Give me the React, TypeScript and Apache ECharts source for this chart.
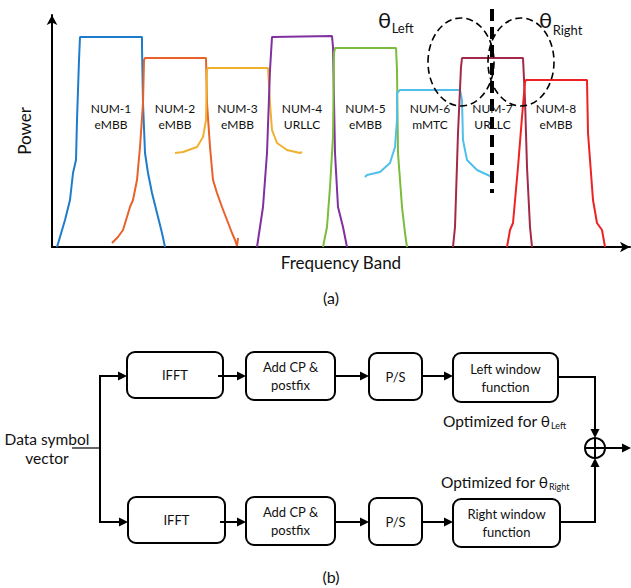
import React, { useEffect, useRef } from "react";
import * as echarts from "echarts";

// Spectrum data: [frequency, power] in arbitrary units
const num1 = [[5,0],[8,10],[13,27],[18,47],[21,74],[24,87],[25,127],[27,187],[28,210],[90,210],[90,200],[91,144],[93,94],[96,74],[100,54],[105,34],[110,14],[113,0]];
const num2 = [[60,4],[66,10],[71,17],[78,40],[81,47],[85,67],[88,100],[91,144],[92,187],[93,189],[154,189],[155,144],[158,100],[161,67],[165,54],[170,40],[175,27],[180,14],[183,7],[185,1],[186,9]];
const num3 = [[123,94],[131,95],[145,100],[151,110],[154,127],[155,177],[156,179],[216,179],[218,144],[220,117],[225,104],[235,97],[248,94],[250,95]];
const num4 = [[205,0],[208,20],[211,40],[215,94],[218,177],[220,210],[280,211],[281,200],[283,94],[286,40],[291,20],[295,0]];
const num5 = [[271,0],[275,20],[278,60],[281,110],[282,194],[283,199],[344,199],[345,177],[346,94],[350,40],[353,14],[355,0]];
const num6 = [[313,70],[315,72],[328,75],[338,84],[343,100],[345,127],[345,154],[348,157],[408,157],[410,147],[411,107],[415,87],[425,77],[440,70]];
const num7 = [[401,0],[403,20],[406,114],[409,180],[410,189],[471,189],[473,147],[475,80],[478,20],[480,0]];
const num8 = [[455,0],[458,17],[461,24],[466,80],[470,130],[473,165],[474,167],[535,167],[536,114],[541,47],[545,24],[550,17],[553,0]];

const numerologies = ["NUM-1","NUM-2","NUM-3","NUM-4","NUM-5","NUM-6","NUM-7","NUM-8"];
const services = ["eMBB","eMBB","eMBB","URLLC","eMBB","mMTC","URLLC","eMBB"];
const curves = [num1,num2,num3,num4,num5,num6,num7,num8];
const colors = ["#1f7ccc","#e8622a","#f0b030","#8030a0","#7cbc3c","#50c0ea","#a42848","#ee2222"];

const FONT = "Lato, 'Open Sans', sans-serif";

let measureCtx: CanvasRenderingContext2D | null = null;
function measure(text: string, size: number) {
  if (!measureCtx) measureCtx = document.createElement("canvas").getContext("2d");
  measureCtx!.font = `${size}px ${FONT}`;
  return measureCtx!.measureText(text).width;
}

function plateauCenter(pts: number[][]) {
  let maxY = -Infinity;
  pts.forEach(p => { if (p[1] > maxY) maxY = p[1]; });
  const xs = pts.filter(p => p[1] >= maxY - 2).map(p => p[0]);
  return (Math.min(...xs) + Math.max(...xs)) / 2;
}

function arrowH(x1: number, x2: number, y: number): any[] {
  const dir = x2 > x1 ? 1 : -1;
  return [
    { type: "line", shape: { x1, y1: y, x2: x2 - dir * 6, y2: y }, style: { stroke: "#000", lineWidth: 2 } },
    { type: "polygon", shape: { points: [[x2, y], [x2 - dir * 9, y - 4.5], [x2 - dir * 9, y + 4.5]] }, style: { fill: "#000" } },
  ];
}
function arrowV(x: number, y1: number, y2: number): any[] {
  const dir = y2 > y1 ? 1 : -1;
  return [
    { type: "line", shape: { x1: x, y1, x2: x, y2: y2 - dir * 6 }, style: { stroke: "#000", lineWidth: 2 } },
    { type: "polygon", shape: { points: [[x, y2], [x - 4.5, y2 - dir * 9], [x + 4.5, y2 - dir * 9]] }, style: { fill: "#000" } },
  ];
}
function box(x: number, y: number, w: number, h: number, text: string): any[] {
  return [
    { type: "rect", shape: { x, y, width: w, height: h, r: 8 }, style: { fill: "#fff", stroke: "#000", lineWidth: 2 } },
    { type: "text", x: x + w / 2, y: y + h / 2, style: { text, font: `13px ${FONT}`, fill: "#111", align: "center", verticalAlign: "middle", lineHeight: 18 } },
  ];
}
function txt(x: number, y: number, text: string, size: number, align = "left"): any {
  return { type: "text", x, y, style: { text, font: `${size}px ${FONT}`, fill: "#111", align, verticalAlign: "middle" } };
}
// main text followed by subscript
function subText(x: number, y: number, main: string, size: number, sub: string, subSize: number, dy: number): any[] {
  const w = measure(main, size);
  return [txt(x, y, main, size), txt(x + w + 0.5, y + dy, sub, subSize)];
}

export default function App() {
  const ref = useRef<HTMLDivElement>(null);
  useEffect(() => {
    document.body.style.margin = "0";
    const chart = echarts.init(ref.current!, null, { renderer: "svg" });

    const series: any[] = curves.map((c, i) => ({
      type: "line",
      name: numerologies[i],
      data: c,
      showSymbol: false,
      lineStyle: { color: colors[i], width: 2 },
      itemStyle: { color: colors[i] },
      z: 2,
    }));

    const g: any[] = [];
    // annotations on spectrum
    g.push({ type: "ellipse", shape: { cx: 461, cy: 62, rx: 33, ry: 44 }, style: { fill: "none", stroke: "#000", lineWidth: 1.6, lineDash: [7, 4] }, z: 10 });
    g.push({ type: "ellipse", shape: { cx: 521, cy: 62, rx: 33, ry: 44 }, style: { fill: "none", stroke: "#000", lineWidth: 1.6, lineDash: [7, 4] }, z: 10 });
    g.push({ type: "line", shape: { x1: 492, y1: 9, x2: 492, y2: 193 }, style: { stroke: "#000", lineWidth: 4, lineDash: [12, 6] }, z: 11 });
    g.push(...subText(378, 19, "θ", 22, "Left", 13, 9));
    g.push(...subText(539, 19, "θ", 22, "Right", 13, 11));
    g.push(txt(331, 297, "(a)", 16, "center"));

    // block diagram
    g.push(...box(127, 352, 96, 46, "IFFT"));
    g.push(...box(246, 352, 89, 48, "Add CP &\npostfix"));
    g.push(...box(369, 353, 53, 47, "P/S"));
    g.push(...box(453, 353, 105, 49, "Left window\nfunction"));
    g.push(...box(128, 497, 97, 46, "IFFT"));
    g.push(...box(246, 497, 89, 48, "Add CP &\npostfix"));
    g.push(...box(369, 498, 53, 47, "P/S"));
    g.push(...box(453, 499, 107, 48, "Right window\nfunction"));

    g.push(...arrowH(218, 246, 376));
    g.push(...arrowH(335, 369, 376));
    g.push(...arrowH(422, 453, 376));
    g.push(...arrowH(220, 246, 522));
    g.push(...arrowH(335, 369, 522));
    g.push(...arrowH(422, 453, 522));

    // input
    g.push({ type: "line", shape: { x1: 72, y1: 448, x2: 100, y2: 448 }, style: { stroke: "#000", lineWidth: 1.2 } });
    g.push({ type: "polyline", shape: { points: [[118, 376], [100, 376], [100, 522], [118, 522]] }, style: { stroke: "#000", lineWidth: 2, fill: "none" } });
    g.push(...arrowH(110, 127, 376));
    g.push(...arrowH(110, 128, 522));
    g.push(txt(47, 439, "Data symbol", 15.5, "center"));
    g.push(txt(47, 458, "vector", 15.5, "center"));

    // combiner
    g.push({ type: "polyline", shape: { points: [[558, 377], [595, 377], [595, 425]] }, style: { stroke: "#000", lineWidth: 2, fill: "none" } });
    g.push(...arrowV(595, 420, 438));
    g.push({ type: "polyline", shape: { points: [[560, 522], [595, 522], [595, 470]] }, style: { stroke: "#000", lineWidth: 2, fill: "none" } });
    g.push(...arrowV(595, 475, 458));
    g.push({ type: "circle", shape: { cx: 595, cy: 448, r: 10 }, style: { fill: "#fff", stroke: "#000", lineWidth: 2 } });
    g.push({ type: "line", shape: { x1: 585, y1: 448, x2: 605, y2: 448 }, style: { stroke: "#000", lineWidth: 2 } });
    g.push({ type: "line", shape: { x1: 595, y1: 438, x2: 595, y2: 458 }, style: { stroke: "#000", lineWidth: 2 } });
    g.push(...arrowH(605, 631, 448));

    g.push(...subText(443, 421, "Optimized for θ", 15.5, "Left", 9, 4));
    g.push(...subText(441, 482, "Optimized for θ", 15.5, "Right", 9, 4));
    g.push(txt(331, 576, "(b)", 16, "center"));

    chart.setOption({
      animation: false,
      backgroundColor: "#fff",
      grid: { left: 52, top: 15, width: 578, height: 232 },
      xAxis: {
        type: "value", min: 0, max: 578,
        name: "Frequency Band", nameLocation: "middle", nameGap: 7,
        nameTextStyle: { fontSize: 17, fontFamily: FONT, color: "#111" },
        axisLine: { show: true, symbol: ["none", "arrow"], symbolSize: [8, 10], lineStyle: { color: "#000", width: 2 } },
        axisTick: { show: false }, axisLabel: { show: false }, splitLine: { show: false },
      },
      yAxis: {
        type: "value", min: 0, max: 232,
        name: "Power", nameLocation: "middle", nameGap: 19, nameRotate: 90,
        nameTextStyle: { fontSize: 17, fontFamily: FONT, color: "#111" },
        axisLine: { show: true, symbol: ["none", "arrow"], symbolSize: [8, 10], lineStyle: { color: "#000", width: 2 } },
        axisTick: { show: false }, axisLabel: { show: false }, splitLine: { show: false },
      },
      series,
    });

    // numerology labels placed at each band's centre via the chart's scales
    curves.forEach((c, i) => {
      const p = chart.convertToPixel({ gridIndex: 0 }, [plateauCenter(c), 131]) as number[];
      g.push({
        type: "text", x: p[0], y: p[1],
        style: { text: `${numerologies[i]}\n${services[i]}`, font: `12px ${FONT}`, fill: "#111", align: "center", verticalAlign: "middle", lineHeight: 16 },
      });
    });
    chart.setOption({ graphic: g.map(e => ({ z: 20, ...e })) });
    return () => chart.dispose();
  }, []);
  return <div ref={ref} style={{ width: 631, height: 588, position: "absolute", left: 0, top: 0 }} />;
}
